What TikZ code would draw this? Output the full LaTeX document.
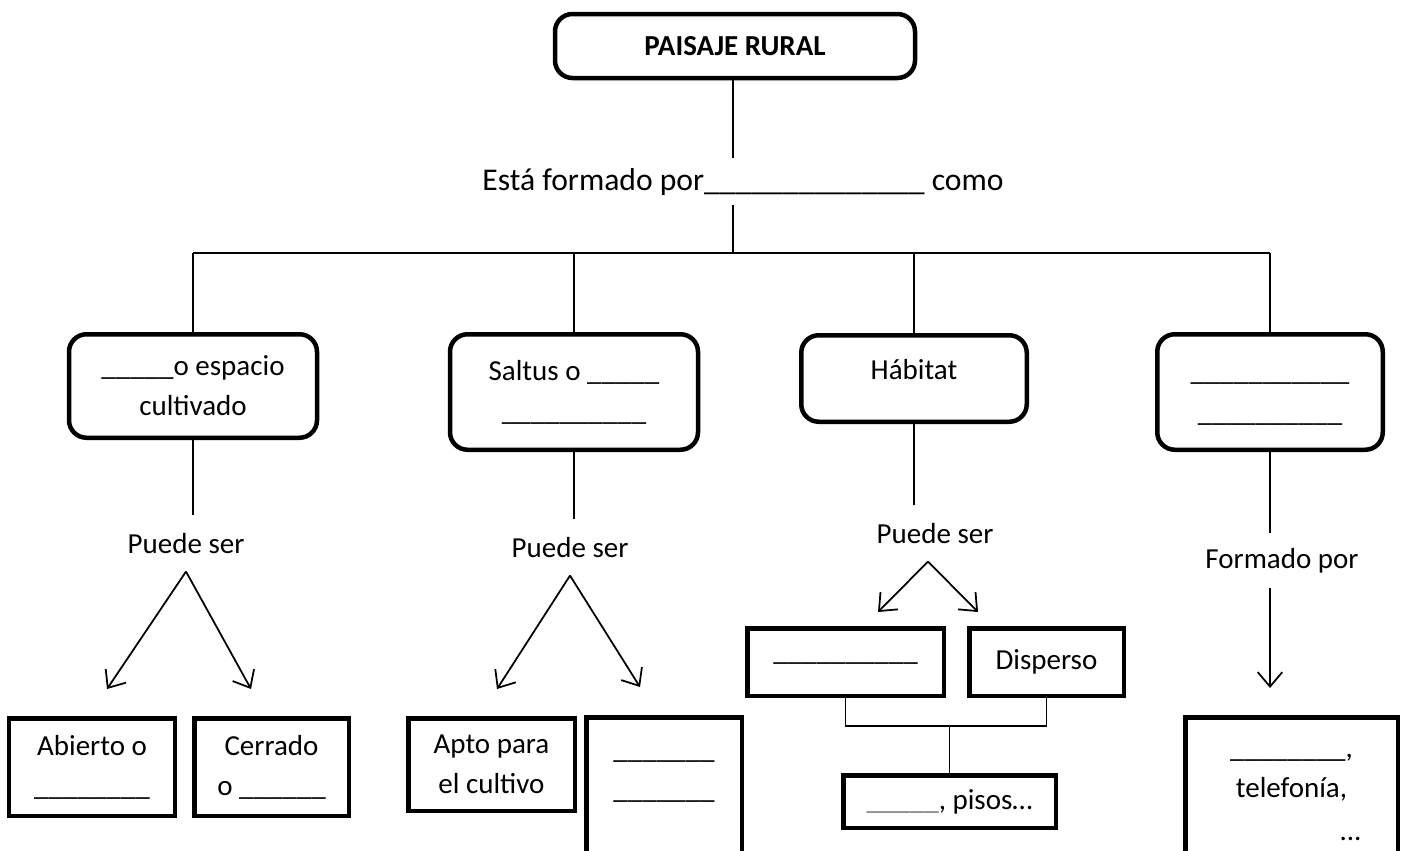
\documentclass[tikz,border=0pt]{standalone}
\usepackage{fontspec}
\setmainfont{Carlito}
\usetikzlibrary{arrows.meta}
\newcommand{\rayas}[1]{\foreach \n in {1,...,#1}{\_}}

\begin{document}
\begin{tikzpicture}[
  >={Straight Barb[length=0.29cm,width=0.49cm]},
  every node/.style={font=\fontsize{16.5}{22.8}\selectfont, align=center},
  raiz/.style={draw, line width=0.09cm, rounded corners=0.35cm,
               minimum width=7.2cm, minimum height=1.28cm},
  rama/.style={draw, line width=0.09cm, rounded corners=0.35cm,
               minimum width=4.96cm},
  caja/.style={draw, line width=0.09cm, inner sep=0pt},
  enlace/.style={anchor=base, inner xsep=0.05cm, inner ysep=0.36cm},
  linea/.style={line width=1pt}
]
\useasboundingbox (0,0) rectangle (28.06,-17);

% ---- TOP: Paisaje rural ----
\node[raiz, font=\fontsize{16.5}{22.8}\selectfont\bfseries] (paisaje)
  at (14.70,-0.92) {PAISAJE RURAL};
\node[enlace, inner ysep=0.2cm, font=\fontsize{18}{24}\selectfont] (formado)
  at (14.86,-3.80) {Está formado por\rayas{14} como};
\coordinate (bus) at (14.66,-5.06);
\draw[linea] (paisaje.south -| bus) -- (formado.north -| bus);
\draw[linea] (formado.south -| bus) -- (bus);

% ---- SECOND LEVEL ----
\node[rama, minimum height=2.07cm] (cultivo) at (3.86,-7.72)
  {\rayas{5}o espacio\\cultivado};
\node[rama, minimum height=2.31cm] (saltus) at (11.48,-7.84)
  {Saltus o \rayas{5}\\\rayas{10}};
\node[rama, minimum width=4.51cm, minimum height=1.73cm, text depth=0.36cm]
  (habitat) at (18.28,-7.57) {Hábitat};
\node[rama, minimum width=4.51cm, minimum height=2.31cm, text height=1.26cm,
      text depth=0.1cm] (red) at (25.40,-7.84) {\rayas{11}\\\rayas{10}};

\draw[linea] (cultivo.north |- bus) -- (red.north |- bus);
\foreach \b in {cultivo, saltus, habitat, red}
  \draw[linea] (\b.north) -- (\b.north |- bus);

% Linking words
\node[enlace] (puede1) at (3.72,-11.06) {Puede ser};
\node[enlace] (puede2) at (11.40,-11.14) {Puede ser};
\node[enlace] (puede3) at (18.70,-10.86) {Puede ser};
\node[enlace, inner ysep=0.3cm] (formado4) at (25.64,-11.36) {Formado por};

\draw[linea] (cultivo.south) -- (cultivo.south |- puede1.north);
\draw[linea] (saltus.south) -- (saltus.south |- puede2.north);
\draw[linea] (habitat.south) -- (habitat.south |- puede3.north);
\draw[linea] (red.south) -- (red.south |- formado4.north);

% Arrow ends
\coordinate (fA) at (2.14,-13.78);
\coordinate (fB) at (5.02,-13.78);
\coordinate (fC) at (9.94,-13.78);
\coordinate (fD) at (12.80,-13.74);
\coordinate (fE) at (17.56,-12.24);
\coordinate (fF) at (19.56,-12.24);
\coordinate (fH) at (25.40,-13.76);

\draw[linea, ->] (puede1.south) -- (fA);
\draw[linea, ->] (puede1.south) -- (fB);
\draw[linea, ->] (puede2.south) -- (fC);
\draw[linea, ->] (puede2.south) -- (fD);
\draw[linea, ->] ([xshift=-0.14cm]puede3.south) -- (fE);
\draw[linea, ->] ([xshift=-0.14cm]puede3.south) -- (fF);
\draw[linea, ->] (red.south |- formado4.south) -- (fH);

% ---- BOTTOM LEVEL ----
\node[caja, minimum width=3.31cm, minimum height=1.95cm] (abierto)
  at (1.84,-15.34) {Abierto o\\\rayas{8}};
\node[caja, minimum width=3.09cm, minimum height=1.95cm] (cerrado)
  at (5.43,-15.34) {Cerrado\\o \rayas{6}};
\node[caja, minimum width=3.33cm, minimum height=1.85cm] (apto)
  at (9.83,-15.29) {Apto para\\el cultivo};
\node[caja, anchor=north, minimum width=3.11cm, text height=1.62cm,
      text depth=1.8cm] (noapto) at (13.28,-14.30) {\rayas{7}\\\rayas{7}};

\node[caja, minimum width=3.93cm, minimum height=1.35cm] (concentrado)
  at (16.91,-13.24) {\rayas{10}};
\node[caja, minimum width=3.09cm, minimum height=1.35cm] (disperso)
  at (20.93,-13.24) {Disperso};
\node[caja, minimum width=4.25cm, minimum height=1.05cm] (pisos)
  at (18.99,-16.03) {\textcolor{gray}{\rayas{5}}, pisos…};
\coordinate (union) at (18.99,-14.52);
\draw[linea] (concentrado.south) |- (union) -| (disperso.south);
\draw[linea] (union) -- (pisos.north);

\node[caja, anchor=north, minimum width=4.25cm, text height=2.46cm,
      text depth=1.0cm] (servicios) at (25.83,-14.30)
  {\rayas{8},\\[0cm]telefonía,\\[0.06cm]\hspace*{2.36cm}...};

\end{tikzpicture}
\end{document}
